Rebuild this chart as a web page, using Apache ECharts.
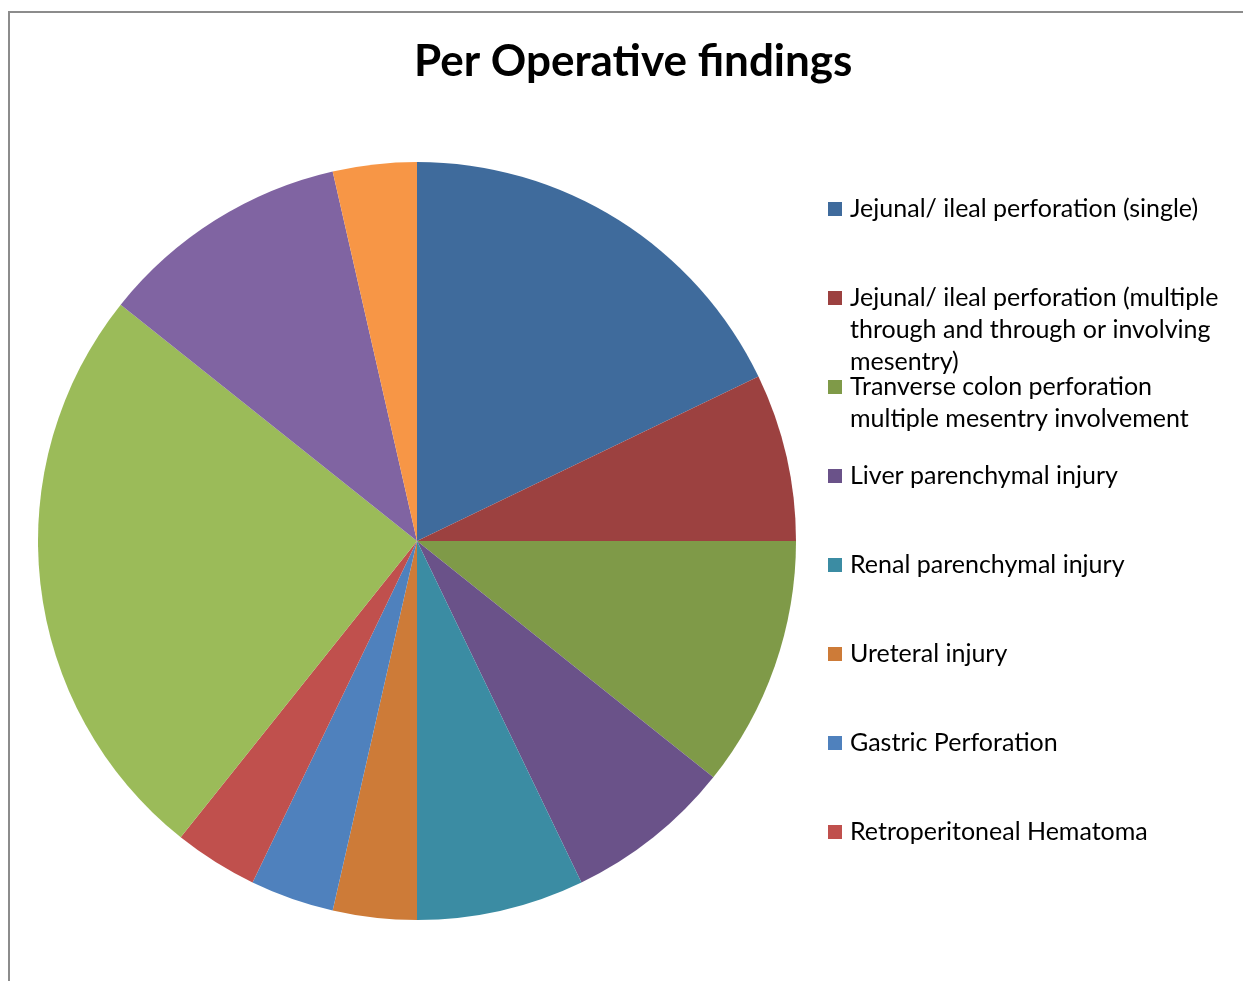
<!DOCTYPE html>
<html>
<head>
<meta charset="utf-8">
<script src="https://cdn.jsdelivr.net/npm/echarts@6/dist/echarts.min.js"></script>
<style>
  html, body { margin: 0; padding: 0; background: #ffffff; }
  #chart { width: 1243px; height: 981px; }
</style>
</head>
<body>
<div id="chart"></div>
<script>
// ---- data ----
const titleText = 'Per Operative findings';
const categories = [
  'Jejunal/ ileal perforation (single)',
  'Jejunal/ ileal perforation (multiple\nthrough and through or involving\nmesentry)',
  'Tranverse colon perforation\nmultiple mesentry involvement',
  'Liver parenchymal injury',
  'Renal parenchymal injury',
  'Ureteral injury',
  'Gastric Perforation',
  'Retroperitoneal Hematoma',
  'Other finding 9',
  'Other finding 10',
  'Other finding 11'
];
const values = [5, 2, 3, 2, 2, 1, 1, 1, 7, 3, 1];
const legendCount = 8;
const colors = ['#3F6B9C', '#9C4140', '#7F9A48', '#6A5289', '#3B8CA3', '#CD7B38',
                '#4F81BD', '#C0504D', '#9BBB59', '#8064A2', '#F79646'];

// ---- chart ----
const font = 'Lato, "Open Sans", sans-serif';
const legendFontSize = 25;
const chart = echarts.init(document.getElementById('chart'), null, { renderer: 'canvas' });

const legendNames = categories.slice(0, legendCount);
// continuation lines for multi-line legend entries (first line shown by the legend)
const extraTexts = [];
const legendTop = 193, legendStep = 89, lineH = 32;
legendNames.forEach((n, i) => {
  const lines = n.split('\n');
  lines.slice(1).forEach((ln, j) => {
    extraTexts.push({
      type: 'text',
      left: 850,
      top: legendTop + i * legendStep + (j + 1) * lineH,
      style: { text: ln, font: legendFontSize + 'px ' + font, fill: '#000000', lineHeight: lineH, height: lineH, verticalAlign: 'top' }
    });
  });
});

chart.setOption({
  backgroundColor: '#ffffff',
  animation: false,
  title: {
    text: titleText,
    left: 414,
    top: 40,
    padding: 0,
    textStyle: { fontFamily: font, fontWeight: 'bold', fontSize: 44, color: '#000000' }
  },
  color: colors,
  legend: {
    orient: 'vertical',
    left: 828,
    top: legendTop,
    padding: 0,
    itemWidth: 14,
    itemHeight: 14,
    itemGap: legendStep - lineH,
    icon: 'rect',
    data: legendNames,
    formatter: (name) => name.split('\n')[0],
    textStyle: { fontFamily: font, fontSize: legendFontSize, color: '#000000', lineHeight: lineH, height: lineH, padding: [0, 0, 0, 3] },
    selectedMode: false
  },
  graphic: [
    {
      type: 'rect',
      shape: { x: 9, y: 12, width: 1400, height: 1200 },
      style: { fill: 'none', stroke: '#8C8C8C', lineWidth: 2 },
      silent: true
    }
  ].concat(extraTexts),
  series: [{
    type: 'pie',
    center: [417, 541],
    radius: [0, 379],
    startAngle: 90,
    clockwise: true,
    label: { show: false },
    labelLine: { show: false },
    itemStyle: { borderWidth: 0 },
    emphasis: { disabled: true },
    data: categories.map((c, i) => ({ name: c, value: values[i] }))
  }]
});
</script>
</body>
</html>
